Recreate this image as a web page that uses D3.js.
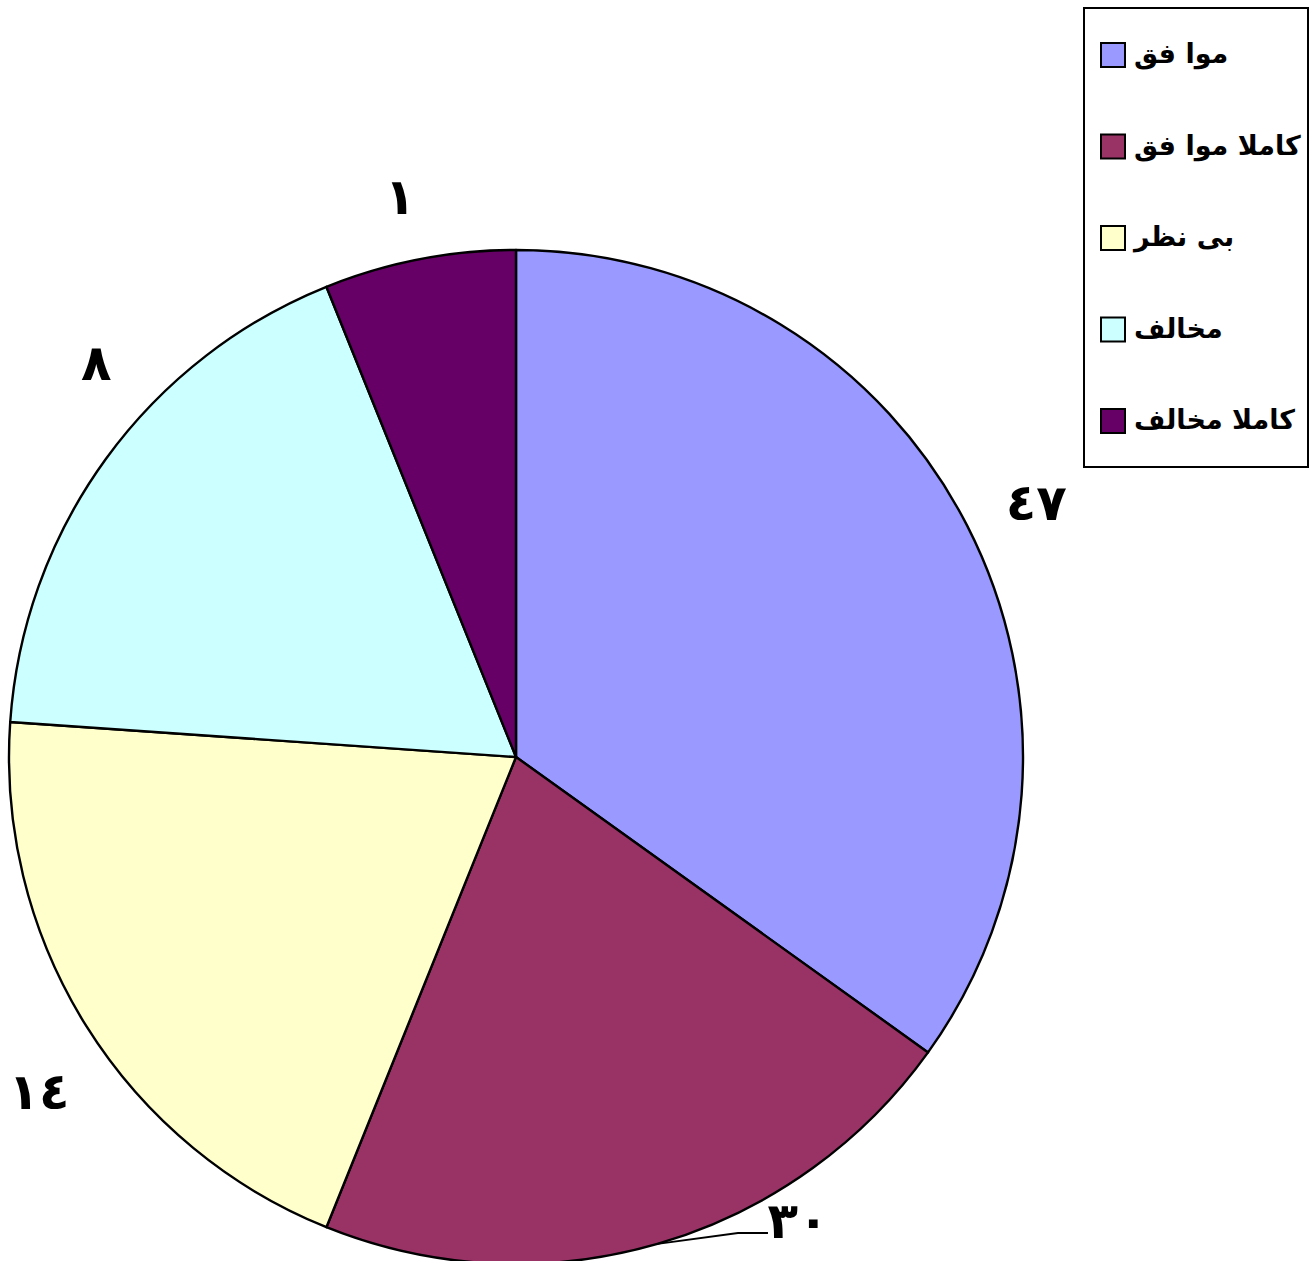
<!DOCTYPE html>
<html>
<head>
<meta charset="utf-8">
<script src="https://cdn.jsdelivr.net/npm/d3@7"></script>
<style>
  body { margin: 0; background: #fff; }
  svg { display: block; }
</style>
</head>
<body>
<svg id="chart" width="1313" height="1261"></svg>
<script>
// categories (legend order = slice order, clockwise from 12 o'clock)
const categories = ["موا فق", "کاملا موا فق", "بی نظر", "مخالف", "کاملا مخالف"];
// slice sizes (percent)
const sliceValues = [34.9, 21.2, 20.0, 17.8, 6.1];
// the data labels printed next to each slice
const dataLabels = ["٤٧", "٣٠", "١٤", "٨", "١"];
const colors = ["#9999FF", "#993366", "#FFFFCC", "#CCFFFF", "#660066"];

const svg = d3.select("#chart");
const cx = 516; // pie centre
const cy = 757;
const radius = 507;
const labelRadius = 577;

const data = categories.map((c, i) => ({ name: c, value: sliceValues[i], label: dataLabels[i], color: colors[i] }));

const pie = d3.pie().sort(null).value((d) => d.value);
const arcs = pie(data);

const arc = d3.arc().innerRadius(0).outerRadius(radius);
const labelArc = d3.arc().innerRadius(labelRadius).outerRadius(labelRadius);
const edgeArc = d3.arc().innerRadius(radius).outerRadius(radius);

const g = svg.append("g").attr("transform", "translate(" + cx + "," + cy + ")");

// slices
g.selectAll("path.slice")
  .data(arcs)
  .enter()
  .append("path")
  .attr("class", "slice")
  .attr("d", arc)
  .attr("fill", (d) => d.data.color)
  .attr("stroke", "#000")
  .attr("stroke-width", 2.4)
  .attr("stroke-linejoin", "round");

// labels were hand-placed in the original; offsets from the default spot
const labelNudge = [[7, 9], [121, -91], [12, 28], [47, -55], [-6, 6]];

arcs.forEach((a, i) => {
  let p = labelArc.centroid(a);
  p = [p[0] + labelNudge[i][0], p[1] + labelNudge[i][1]];
  if (i === 1) {
    // the "30" label sits far from its slice, so it gets a leader line
    const e = edgeArc.centroid(a);
    g.append("polyline")
      .attr("points", [e, [p[0] - 60, p[1] + 13], [p[0] - 30, p[1] + 13]].map((q) => q.join(",")).join(" "))
      .attr("fill", "none")
      .attr("stroke", "#000")
      .attr("stroke-width", 2);
  }
  g.append("text")
    .attr("x", p[0])
    .attr("y", p[1])
    .attr("dy", "0.35em")
    .attr("text-anchor", "middle")
    .attr("font-family", "'DejaVu Sans', sans-serif")
    .attr("font-weight", "bold")
    .attr("font-size", "50px")
    .attr("fill", "#000")
    .text(a.data.label);
});

// legend
const legend = svg.append("g");
legend
  .append("rect")
  .attr("x", 1084)
  .attr("y", 8)
  .attr("width", 224)
  .attr("height", 459)
  .attr("fill", "#fff")
  .attr("stroke", "#000")
  .attr("stroke-width", 2);

const legendY = d3.scalePoint().domain(categories).range([55, 421]);

categories.forEach((c, i) => {
  const y = legendY(c);
  legend
    .append("rect")
    .attr("x", 1101)
    .attr("y", y - 12)
    .attr("width", 24)
    .attr("height", 24)
    .attr("fill", colors[i])
    .attr("stroke", "#000")
    .attr("stroke-width", 2);
  legend
    .append("text")
    .attr("x", 1134)
    .attr("y", y)
    .attr("dy", "0.3em")
    .attr("text-anchor", "start")
    .attr("font-family", "'DejaVu Sans', sans-serif")
    .attr("font-weight", "bold")
    .attr("font-size", "27px")
    .attr("fill", "#000")
    .text(c);
});
</script>
</body>
</html>
